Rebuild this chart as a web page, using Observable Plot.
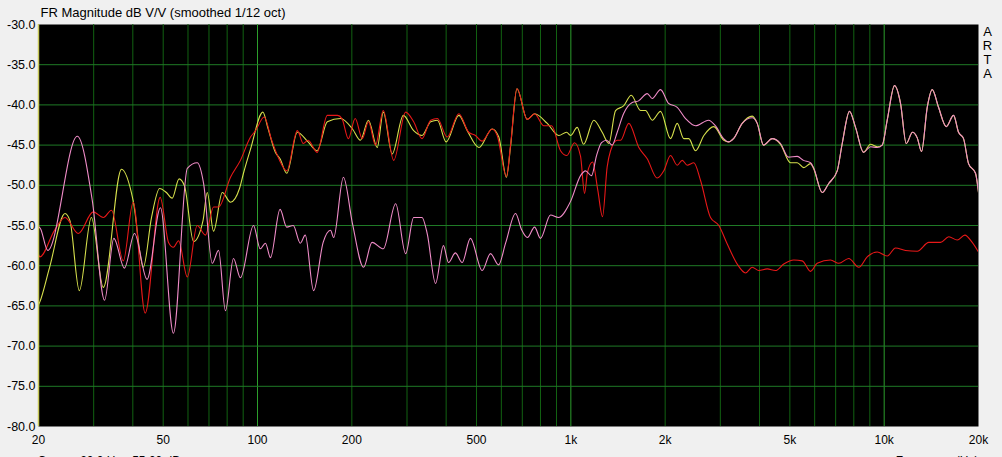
<!DOCTYPE html>
<html><head><meta charset="utf-8">
<script src="https://cdn.jsdelivr.net/npm/d3@7"></script>
<script src="https://cdn.jsdelivr.net/npm/@observablehq/plot@0.6"></script>
<style>html,body{margin:0;padding:0;background:#f0f0f0;overflow:hidden;}</style>
</head><body><div id="chart"></div>
<script>
// ---- data (Hz, dB) ----
const yellowFreq = [20, 20.2, 21.7, 24.3, 25.2, 27.0, 29.5, 32.2, 36.8, 40.1, 43.2, 45.9, 48.7, 51.2, 53.4, 56.2, 58.5, 62.5, 67.0, 69.1, 72.4, 77.2, 82.0, 87.6, 90.2, 95.0, 104, 108, 114, 118, 124, 134, 145, 155, 167, 184, 201, 213, 226, 241, 252, 269, 292, 315, 335, 357, 375, 400, 439, 467, 509, 561, 589, 623, 642, 673, 726, 766, 841, 915, 969, 998, 1048, 1098, 1184, 1259, 1322, 1389, 1476, 1559, 1669, 1731, 1819, 1933, 2080, 2185, 2294, 2379, 2500, 2658, 2860, 3078, 3186, 3305, 3523, 3792, 3934, 4120, 4392, 4668, 5024, 5278, 5540, 5820, 5950, 6343, 6644, 7082, 7347, 7752, 8101, 8592, 9045, 9502, 9858, 10226, 10790, 11276, 11760, 12316, 12750, 13160, 13722, 14236, 14910, 15778, 16648, 17272, 17918, 18588, 19566, 20000];
const yellowDb = [-64.9, -64.5, -60.2, -53.5, -54.4, -63.1, -54.0, -62.7, -48.0, -51.9, -60.2, -54.0, -50.4, -50.9, -51.6, -49.2, -50.1, -57.0, -54.4, -50.9, -55.7, -50.9, -52.1, -50.4, -48.5, -45.5, -40.9, -42.9, -45.9, -46.7, -48.5, -43.4, -44.6, -45.7, -42.1, -41.7, -43.0, -44.4, -41.9, -45.3, -40.9, -46.1, -41.3, -43.2, -43.8, -42.1, -41.9, -44.6, -41.3, -43.2, -45.3, -43.0, -44.0, -49.0, -45.2, -38.0, -41.8, -41.1, -42.3, -43.8, -43.4, -43.8, -42.8, -44.9, -41.9, -43.4, -44.8, -40.7, -40.1, -38.8, -40.7, -40.7, -41.9, -40.8, -44.2, -42.3, -44.2, -44.2, -45.7, -43.8, -42.7, -44.4, -44.6, -44.2, -42.3, -41.4, -42.3, -45.0, -44.2, -44.9, -47.2, -47.2, -47.8, -47.3, -47.9, -50.9, -49.8, -48.2, -44.8, -40.8, -42.8, -45.9, -44.9, -45.2, -45.0, -41.9, -37.6, -39.8, -44.8, -43.4, -44.1, -45.8, -40.3, -38.1, -40.3, -42.7, -41.3, -43.4, -44.2, -47.3, -48.5, -50.9];

const redFreq = [20, 20.2, 22.5, 24.3, 26.8, 29.9, 32.2, 34.2, 37.3, 40.1, 43.8, 48.9, 52.0, 53.9, 56.0, 59.7, 64.2, 68.2, 72.4, 75.1, 82.0, 88.2, 95.0, 98.6, 105, 111, 117, 124, 134, 140, 145, 155, 167, 180, 186, 195, 205, 216, 226, 238, 252, 272, 297, 315, 335, 357, 375, 403, 439, 472, 496, 521, 561, 582, 623, 642, 673, 726, 766, 820, 868, 927, 971, 1027, 1074, 1106, 1130, 1173, 1219, 1262, 1306, 1339, 1406, 1441, 1531, 1648, 1753, 1886, 1980, 2080, 2185, 2267, 2352, 2469, 2594, 2791, 2967, 3156, 3396, 3610, 3792, 3980, 4234, 4500, 4782, 5147, 5476, 5820, 6112, 6742, 7166, 7710, 8298, 8828, 9502, 10226, 10868, 11698, 12750, 13882, 15128, 16082, 17106, 18088, 19098, 20000];
const redDb = [-58.6, -58.9, -55.6, -54.0, -56.0, -53.3, -54.0, -53.1, -59.4, -52.1, -65.9, -51.5, -57.1, -57.7, -56.9, -61.4, -55.0, -56.2, -52.7, -52.7, -49.0, -46.9, -44.0, -43.2, -41.5, -44.4, -46.7, -48.2, -43.2, -44.8, -44.4, -45.9, -41.3, -41.3, -41.7, -44.2, -41.7, -44.2, -42.1, -45.0, -40.7, -46.9, -40.9, -42.1, -44.2, -41.9, -41.7, -44.0, -41.1, -43.4, -43.8, -44.5, -43.0, -43.8, -48.9, -45.0, -38.0, -41.8, -41.1, -42.6, -42.6, -45.7, -46.3, -44.7, -46.4, -51.0, -48.4, -47.1, -50.6, -53.9, -47.7, -45.7, -44.4, -44.4, -42.3, -45.3, -46.7, -49.1, -48.2, -46.3, -47.5, -46.9, -47.5, -47.2, -49.4, -54.0, -55.0, -57.3, -59.8, -60.9, -60.2, -60.6, -60.4, -60.6, -59.8, -59.3, -59.4, -60.7, -59.7, -59.3, -59.7, -59.1, -60.2, -58.9, -58.3, -58.8, -57.8, -58.1, -58.2, -57.1, -57.1, -56.4, -56.8, -56.2, -57.1, -58.3];

const pinkFreq = [20, 20.3, 21.4, 26.6, 29.7, 32.5, 34.8, 37.6, 40.5, 44.4, 49.0, 53.9, 59.7, 64.2, 67.3, 71.7, 75.1, 79.0, 83.8, 88.2, 97.1, 102, 106, 110, 118, 124, 130, 137, 142, 151, 162, 171, 175, 188, 201, 218, 232, 252, 276, 297, 315, 335, 348, 370, 392, 407, 428, 450, 478, 521, 554, 588, 619, 666, 696, 727, 766, 800, 861, 913, 998, 1074, 1114, 1164, 1208, 1253, 1300, 1355, 1406, 1473, 1570, 1645, 1753, 1819, 1933, 2050, 2185, 2323, 2500, 2750, 2896, 3071, 3186, 3305, 3523, 3792, 3934, 4120, 4392, 4668, 4951, 5278, 5528, 5820, 5950, 6343, 6644, 7082, 7347, 7752, 8101, 8592, 9045, 9502, 9858, 10226, 10790, 11276, 11760, 12316, 12750, 13160, 13722, 14236, 14910, 15778, 16648, 17272, 17918, 18588, 19566, 20000];
const pinkDb = [-55.1, -55.4, -58.1, -43.9, -51.9, -64.3, -56.6, -60.3, -56.0, -61.7, -52.8, -68.4, -47.9, -47.2, -49.8, -59.7, -58.1, -65.6, -59.1, -61.5, -55.0, -57.9, -57.2, -59.0, -53.0, -55.2, -55.0, -57.2, -56.2, -63.1, -57.1, -55.6, -56.5, -49.0, -54.8, -60.2, -57.1, -57.9, -52.3, -58.5, -54.0, -54.0, -56.0, -62.2, -57.5, -59.6, -58.4, -59.6, -56.6, -60.6, -58.5, -59.9, -57.2, -53.5, -55.5, -56.5, -55.2, -56.6, -53.7, -54.0, -52.0, -48.8, -48.2, -48.8, -46.3, -44.7, -44.4, -45.0, -43.4, -41.1, -39.7, -39.5, -38.6, -39.2, -38.1, -39.8, -40.3, -41.7, -42.6, -41.9, -42.6, -44.2, -44.6, -44.2, -42.3, -41.6, -42.3, -45.0, -44.2, -44.8, -46.5, -46.4, -46.9, -47.2, -47.8, -50.9, -49.8, -48.2, -44.8, -40.8, -42.8, -45.9, -45.2, -45.3, -45.0, -41.9, -37.6, -39.8, -44.8, -43.4, -44.1, -45.8, -40.3, -38.1, -40.3, -42.7, -41.3, -43.4, -44.2, -47.3, -48.5, -50.9];

const yTicks = [-30, -35, -40, -45, -50, -55, -60, -65, -70, -75, -80];
const xLabelTicks = [20, 50, 100, 200, 500, 1000, 2000, 5000, 10000, 20000];
const xLabelText = ["20", "50", "100", "200", "500", "1k", "2k", "5k", "10k", "20k"];
const minorGridFreqs = [30, 40, 50, 60, 70, 80, 90, 200, 300, 400, 500, 600, 700, 800, 900, 2000, 3000, 4000, 5000, 6000, 7000, 8000, 9000];
const decadeGridFreqs = [100, 1000, 10000];
const cursorFreq = [20];
const titleText = "FR Magnitude dB V/V (smoothed 1/12 oct)";
const brandText = "A\nR\nT\nA";
const cursorText = "Cursor: 20.0 Hz, -55.00 dB";
const axisNameText = "Frequency (Hz)";

const series = [
  {f: yellowFreq, db: yellowDb, color: "#d6df4c"},
  {f: redFreq, db: redDb, color: "#e81818"},
  {f: pinkFreq, db: pinkDb, color: "#f08cc8"}
];

const font = "'Liberation Sans', Arial, sans-serif";

const chart = Plot.plot({
  width: 1002,
  height: 457,
  marginLeft: 38,
  marginRight: 24,
  marginTop: 24,
  marginBottom: 31,
  style: {background: "#f0f0f0", fontFamily: font, fontSize: "12px", color: "#000", overflow: "hidden"},
  x: {type: "log", domain: [20, 20000], axis: null},
  y: {domain: [-80, -30], axis: null},
  marks: [
    Plot.frame({fill: "black", stroke: "none"}),
    Plot.ruleX(minorGridFreqs, {x: d => d, stroke: "#126212", strokeWidth: 1}),
    Plot.ruleX(decadeGridFreqs, {x: d => d, stroke: "#2c9e2c", strokeWidth: 1}),
    Plot.ruleY(yTicks.slice(1, -1), {y: d => d, stroke: "#1f7a26", strokeWidth: 1}),
    ...series.map(s => Plot.line(s.f.map((f, i) => ({f, db: s.db[i]})), {
      x: "f", y: "db", stroke: s.color, strokeWidth: 1.1, curve: "monotone-x", clip: true
    })),
    Plot.ruleX(cursorFreq, {x: d => d, stroke: "#c9c95a", strokeWidth: 1.5}),
    Plot.text(xLabelTicks, {x: d => d, text: (d, i) => xLabelText[i], frameAnchor: "bottom", dy: 9, lineAnchor: "top", textAnchor: "middle", fontSize: 12, fill: "#000"}),
    Plot.text(yTicks, {y: d => d, text: d => d.toFixed(1), frameAnchor: "left", dx: -3, textAnchor: "end", lineAnchor: "middle", fontSize: 12.5, fill: "#000"}),
    Plot.text([titleText], {frameAnchor: "top-left", dx: 2, dy: -12, textAnchor: "start", lineAnchor: "middle", fontSize: 13, fill: "#000"}),
    Plot.text([brandText], {frameAnchor: "top-right", dx: 9, dy: 2, textAnchor: "middle", lineAnchor: "top", lineHeight: 1.06, fontSize: 13, fill: "#000"}),
    Plot.text([cursorText], {frameAnchor: "bottom-left", dx: -1, dy: 38, textAnchor: "start", lineAnchor: "bottom", fontSize: 12, fill: "#000"}),
    Plot.text([axisNameText], {frameAnchor: "bottom-right", dx: 0, dy: 38, textAnchor: "end", lineAnchor: "bottom", fontSize: 12, fill: "#000"})
  ]
});
document.getElementById("chart").appendChild(chart);
</script>
</body></html>
